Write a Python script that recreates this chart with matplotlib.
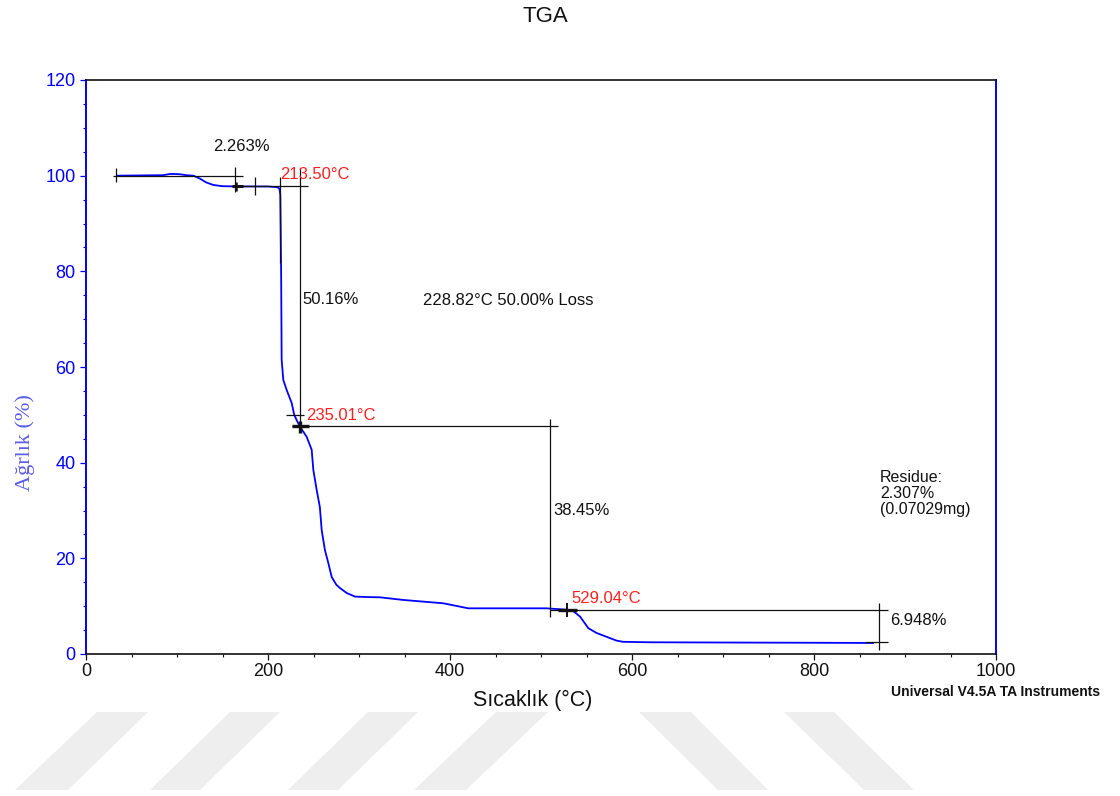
import matplotlib
matplotlib.use("Agg")
import matplotlib.pyplot as plt
from matplotlib.patches import Polygon
from matplotlib.ticker import MultipleLocator

plt.rcParams['font.family'] = ['Liberation Sans', 'DejaVu Sans']

# --- TGA curve: temperature (°C) and weight (%) ---
temperature = [35, 60, 85, 92, 97, 103, 110, 118, 125, 132, 140, 150, 165, 200, 210,
               212.5, 213.5, 214.0, 214.5, 215.0, 216.8, 220.5, 226, 228.82, 231.5, 235.01,
               242.5, 248, 249.8, 253.5, 257, 259, 262.6, 266.3, 270, 275, 279, 286.5,
               295.6, 310, 323, 348.7, 370.7, 392.7, 411, 420, 460, 506, 517, 529.04,
               536, 543, 552, 561, 572, 583, 590, 620, 700, 800, 865]
weight = [100.0, 100.05, 100.1, 100.35, 100.35, 100.3, 100.1, 100.0, 99.4, 98.6, 98.05,
          97.8, 97.75, 97.74, 97.6, 97.3, 96.0, 88.0, 78.0, 61.5, 57.3, 55.2, 52.5, 50.0,
          48.9, 47.58, 45.4, 42.7, 38.5, 34.3, 30.7, 25.9, 21.7, 19.0, 16.1, 14.5, 13.8,
          12.75, 12.0, 11.9, 11.85, 11.3, 10.95, 10.6, 9.9, 9.55, 9.55, 9.55, 9.4, 9.26,
          8.9, 7.8, 5.4, 4.4, 3.6, 2.8, 2.55, 2.45, 2.4, 2.35, 2.307]

# --- step analysis results ---
step1_loss = 2.263          # %
step2_loss = 50.16          # %
step3_loss = 38.45          # %
step4_loss = 6.948          # %
residue_pct = 2.307         # %
residue_mg = 0.07029        # mg
onset_1 = 213.50            # °C
onset_2 = 235.01            # °C
onset_3 = 529.04            # °C
half_loss_T = 228.82        # °C
half_loss_pct = 50.00       # %

level0 = 100.0
level1 = level0 - step1_loss
level2 = level1 - step2_loss
level3 = residue_pct + step4_loss

BLUE = '#0000ff'
RED = '#ff2020'
INK = '#111111'

fig = plt.figure(figsize=(11.2, 7.96), dpi=100)

# faint diagonal band decoration along the bottom edge
deco = fig.add_axes([0, 0, 1, 1], zorder=-5)
deco.set_xlim(0, 1120)
deco.set_ylim(796, 0)
deco.axis('off')
bands = [
    [(97, 712), (148, 712), (68, 790), (15, 790)],
    [(230, 712), (280, 712), (200, 790), (150, 790)],
    [(368, 712), (418, 712), (338, 790), (288, 790)],
    [(496, 712), (548, 712), (466, 790), (414, 790)],
    [(639, 712), (691, 712), (768, 790), (718, 790)],
    [(784, 712), (834, 712), (914, 790), (864, 790)],
]
for b in bands:
    deco.add_patch(Polygon(b, closed=True, facecolor='#eeeeee', edgecolor='none'))

ax = fig.add_axes([86 / 1120, 1 - 654 / 796, 910 / 1120, 574 / 796])
ax.set_xlim(0, 1000)
ax.set_ylim(0, 120)

ax.plot(temperature, weight, color=BLUE, lw=1.3, zorder=2, solid_joinstyle='miter')

lw = 0.9
def seg(x0, x1, y0, y1, width=lw):
    ax.plot([x0, x1], [y0, y1], color=INK, lw=width, zorder=3, solid_capstyle='butt')

# step 1
seg(30, 172.5, level0, level0)
seg(33, 33, level0 - 1.3, level0 + 1.5)
seg(163.7, 163.7, level1 - 1.2, level0 + 1.8)
seg(161.5, 244, level1, level1)
seg(185.7, 185.7, level1 - 1.7, level1 + 2.0)
seg(160, 172, level1, level1, width=2.2)
seg(165, 165, level1 - 1.0, level1 + 1.0, width=1.8)
ax.text(140, 106.2, f'{step1_loss:.3f}%', fontsize=12, color=INK, va='center', ha='left')

# step 2
seg(onset_1, onset_1, 81.7, level0 - 0.2)
seg(onset_2, onset_2, level2, level0 + 1.6)
ax.text(onset_1, 100.2, f'{onset_1:.2f}°C', fontsize=12, color=RED, va='center', ha='left')
ax.text(237.4, 74.2, f'{step2_loss:.2f}%', fontsize=12, color=INK, va='center', ha='left')
ax.text(370, 74.0, f'{half_loss_T:.2f}°C {half_loss_pct:.2f}% Loss', fontsize=12,
        color=INK, va='center', ha='left')
seg(half_loss_T - 8.5, half_loss_T + 11, half_loss_pct, half_loss_pct)
seg(226, 518.7, level2, level2)
seg(onset_2 - 9, onset_2 + 10, level2, level2, width=2.4)
seg(onset_2, onset_2, level2 - 1.4, level2 + 1.2, width=2.4)
ax.text(241.8, 49.8, f'{onset_2:.2f}°C', fontsize=12, color=RED, va='center', ha='left')

# step 3
seg(509.9, 509.9, 7.7, level2 + 1.5)
ax.text(513, 29.9, f'{step3_loss:.2f}%', fontsize=12, color=INK, va='center', ha='left')

# step 4
seg(510, 881, level3, level3)
seg(onset_3 - 10.5, onset_3 + 10.5, level3, level3, width=2.4)
seg(onset_3, onset_3, level3 - 1.6, level3 + 1.4, width=1.4)
ax.text(533, 11.5, f'{onset_3:.2f}°C', fontsize=12, color=RED, va='center', ha='left')
seg(871.5, 871.5, 0.8, level3 + 1.4)
seg(856, 881, residue_pct + 0.2, residue_pct + 0.2)
ax.text(883.5, 7.1, f'{step4_loss:.3f}%', fontsize=12, color=INK, va='center', ha='left')

ax.text(872.5, 36.8, 'Residue:', fontsize=11.5, color=INK, va='center', ha='left')
ax.text(872.5, 33.6, f'{residue_pct:.3f}%', fontsize=11.5, color=INK, va='center', ha='left')
ax.text(872.5, 30.3, f'({residue_mg:.5f}mg)', fontsize=11.5, color=INK, va='center', ha='left')

# axes styling
for side in ('left', 'right'):
    ax.spines[side].set_color(BLUE)
    ax.spines[side].set_linewidth(1.4)
for side in ('top', 'bottom'):
    ax.spines[side].set_color(INK)
    ax.spines[side].set_linewidth(1.2)

ax.xaxis.set_major_locator(MultipleLocator(200))
ax.xaxis.set_minor_locator(MultipleLocator(50))
ax.yaxis.set_major_locator(MultipleLocator(20))
ax.yaxis.set_minor_locator(MultipleLocator(5))
ax.tick_params(axis='x', which='major', direction='out', length=4.5, width=0.9,
               colors=INK, labelsize=13, pad=2)
ax.tick_params(axis='x', which='minor', direction='out', length=2.5, width=0.8, colors=INK)
ax.tick_params(axis='y', which='major', direction='out', length=4.5, width=0.9,
               colors=BLUE, labelsize=13, pad=3)
ax.tick_params(axis='y', which='minor', direction='out', length=2.5, width=0.8, colors=BLUE)

fig.text(545 / 1120, 1 - 16 / 796, 'TGA', fontsize=16, color=INK, ha='center', va='center')
fig.text(533 / 1120, 1 - 700 / 796, 'Sıcaklık (°C)', fontsize=15.5, color=INK,
         ha='center', va='center')
fig.text(25 / 1120, 1 - 443 / 796, 'Ağrlık (%)', fontsize=16, color='#5c5ce6',
         family='Liberation Serif', rotation=90, ha='center', va='center')
fig.text(891 / 1120, 1 - 692 / 796, 'Universal V4.5A TA Instruments', fontsize=10,
         color=INK, ha='left', va='center', fontweight='bold')

fig.savefig('out.png', dpi=100)
